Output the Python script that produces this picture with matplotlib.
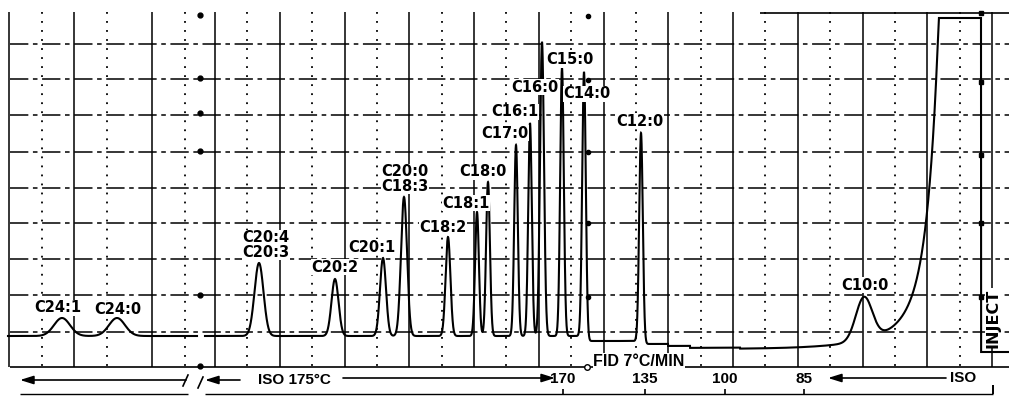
import numpy as np
import matplotlib
matplotlib.use("Agg")
import matplotlib.pyplot as plt

# ---------------- data ----------------
# chart-paper units: x = position along the recorder chart, y = pen deflection measured downward
peak_names = ["C24:1", "C24:0", "C20:4\nC20:3", "C20:2", "C20:1", "C20:0\nC18:3", "C18:2",
              "C18:1", "C18:0", "C17:0", "C16:1", "C16:0", "C15:0", "C14:0", "C12:0", "C10:0"]
peak_pos = [62, 117, 259, 335, 383, 404, 448, 477, 488, 516, 530, 542, 562, 584, 641, 864]
peak_height = [18, 18, 73, 57, 78, 139, 99, 124, 154, 191, 213, 294, 268, 269, 208, 43]
peak_sigma = [8, 8, 4.5, 3.5, 3.0, 3.0, 2.4, 1.9, 1.9, 1.8, 1.8, 2.0, 1.8, 1.8, 1.8, 8.2]

# recorder baseline drift (segment start, level)
base_start = [0, 582, 643, 668, 690, 740, 981]
base_level = [336, 341, 344, 346, 348, 349, 352]

# solvent front (off-scale), injection point
solvent_ref = 925
solvent_fast_h, solvent_fast_tau = 78, 11
solvent_slow_h, solvent_slow_tau = 41, 40
inject_pos = 981
full_scale = 18

# temperature program annotations
temp_labels = ["170", "135", "100", "85"]
temp_pos = [563, 645, 725, 804]

# ---------------- layout ----------------
label_xy = [(58, 308), (118, 309), (266, 245), (335, 267), (372, 247), (405, 179),
            (443, 227), (466, 203), (483, 172), (505, 133), (515, 112), (535, 87),
            (570, 60), (587, 94), (640, 121), (865, 285)]

LABEL_FONT = ["DejaVu Sans"]
WIDE = ["Liberation Sans", "DejaVu Sans"]


def trace(x):
    idx = np.searchsorted(base_start, x, side="right") - 1
    base = np.asarray(base_level, float)[idx]
    sig = np.zeros_like(x)
    for p, h, s in zip(peak_pos, peak_height, peak_sigma):
        sig += h * np.exp(-0.5 * ((x - p) / s) ** 2)
    solv = (solvent_fast_h * np.exp((x - solvent_ref) / solvent_fast_tau)
            + solvent_slow_h * np.exp((x - solvent_ref) / solvent_slow_tau))
    solv[x > inject_pos] = 0.0
    y = base - sig - solv
    return np.maximum(y, full_scale)


fig = plt.figure(figsize=(10.09, 3.97), dpi=100)
ax = fig.add_axes([0, 0, 1, 1])
ax.set_xlim(0, 1009)
ax.set_ylim(397, 0)
ax.axis("off")

# ---------------- chart paper grid ----------------
solid_v = np.concatenate([[9, 74, 152], 215 + 64.75 * np.arange(13)])
dotted_v = np.concatenate([[42, 107, 185], 247.4 + 64.75 * np.arange(12)])
ax.vlines(solid_v, 12, 367, colors="black", linewidth=1.1, zorder=1)
ax.vlines(dotted_v, 12, 367, colors="black", linewidth=1.3,
          linestyles=[(0, (1, 4))], zorder=1)
h_lines = [44, 79, 115, 152, 188, 223, 259, 295, 332]
ax.hlines(h_lines, 10, 1009, colors="black", linewidth=1.1,
          linestyles=[(0, (12, 3, 3, 3))], zorder=1)
ax.hlines([367], 10, 1009, colors="black", linewidth=1.2, zorder=1)
ax.hlines([13], 760, 1009, colors="black", linewidth=1.2, zorder=1)

# small pen marks on the paper
ax.plot([200] * 6, [15, 78, 113, 151, 295, 366], "o", color="black", ms=3.5, zorder=2)
ax.plot([588] * 5, [16, 80, 152, 223, 297], "o", color="black", ms=3, zorder=2)
ax.plot([981] * 5, [13, 82, 155, 223, 297], "s", color="black", ms=3.5, zorder=2)

# ---------------- chromatogram trace ----------------
x_left = np.linspace(8, 197, 3000)
x_right = np.linspace(205, 1009, 40000)
for xs in (x_left, x_right):
    ax.plot(xs, trace(xs), color="black", linewidth=1.5, zorder=3,
            solid_joinstyle="miter")

# ---------------- peak labels ----------------
for name, (lx, ly) in zip(peak_names, label_xy):
    ax.text(lx, ly, name, ha="center", va="center", fontsize=10.5,
            fontweight="bold", family=LABEL_FONT, linespacing=1.0, zorder=5,
            bbox=dict(facecolor="white", edgecolor="none", pad=0.3))

ax.text(993, 318, "INJECT", rotation=90, ha="center", va="center",
        fontsize=11.5, fontweight="bold", family=LABEL_FONT, zorder=5,
        bbox=dict(facecolor="white", edgecolor="none", pad=0.3))

ax.plot([587], [367], "o", color="black", ms=4, mfc="white", zorder=5)
ax.text(593, 361, "FID 7°C/MIN", ha="left", va="center", fontsize=11.5,
        fontweight="bold", family=WIDE, zorder=5,
        bbox=dict(facecolor="white", edgecolor="none", pad=0.2))

# ---------------- temperature program row ----------------
arrow_kw = dict(arrowstyle="-|>,head_length=0.8,head_width=0.25", color="black",
                lw=1.2, shrinkA=0, shrinkB=0)
ax.annotate("", xy=(20, 380), xytext=(186, 380), arrowprops=arrow_kw)
ax.annotate("", xy=(205, 380), xytext=(240, 380), arrowprops=arrow_kw)
ax.annotate("", xy=(555, 378), xytext=(343, 378), arrowprops=arrow_kw)
ax.annotate("", xy=(828, 378), xytext=(946, 378), arrowprops=arrow_kw)
ax.plot([183, 188], [386, 375], color="black", lw=1.2)
ax.plot([198, 203], [388, 377], color="black", lw=1.2)
ax.text(294, 380, "ISO 175°C", ha="center", va="center", fontsize=11,
        fontweight="bold", family=WIDE)
for t, px in zip(temp_labels, temp_pos):
    ax.text(px, 379, t, ha="center", va="center", fontsize=11,
            fontweight="bold", family=WIDE)
ax.text(963, 378, "ISO", ha="center", va="center", fontsize=11,
        fontweight="bold", family=WIDE)

ax.hlines([394, 394], [20, 205], [188, 993], colors="black", linewidth=1.0)
ax.vlines(temp_pos, 389, 394, colors="black", linewidth=1.2)
ax.vlines([993], 385, 394, colors="black", linewidth=1.4)

fig.savefig("out.png", dpi=100)
